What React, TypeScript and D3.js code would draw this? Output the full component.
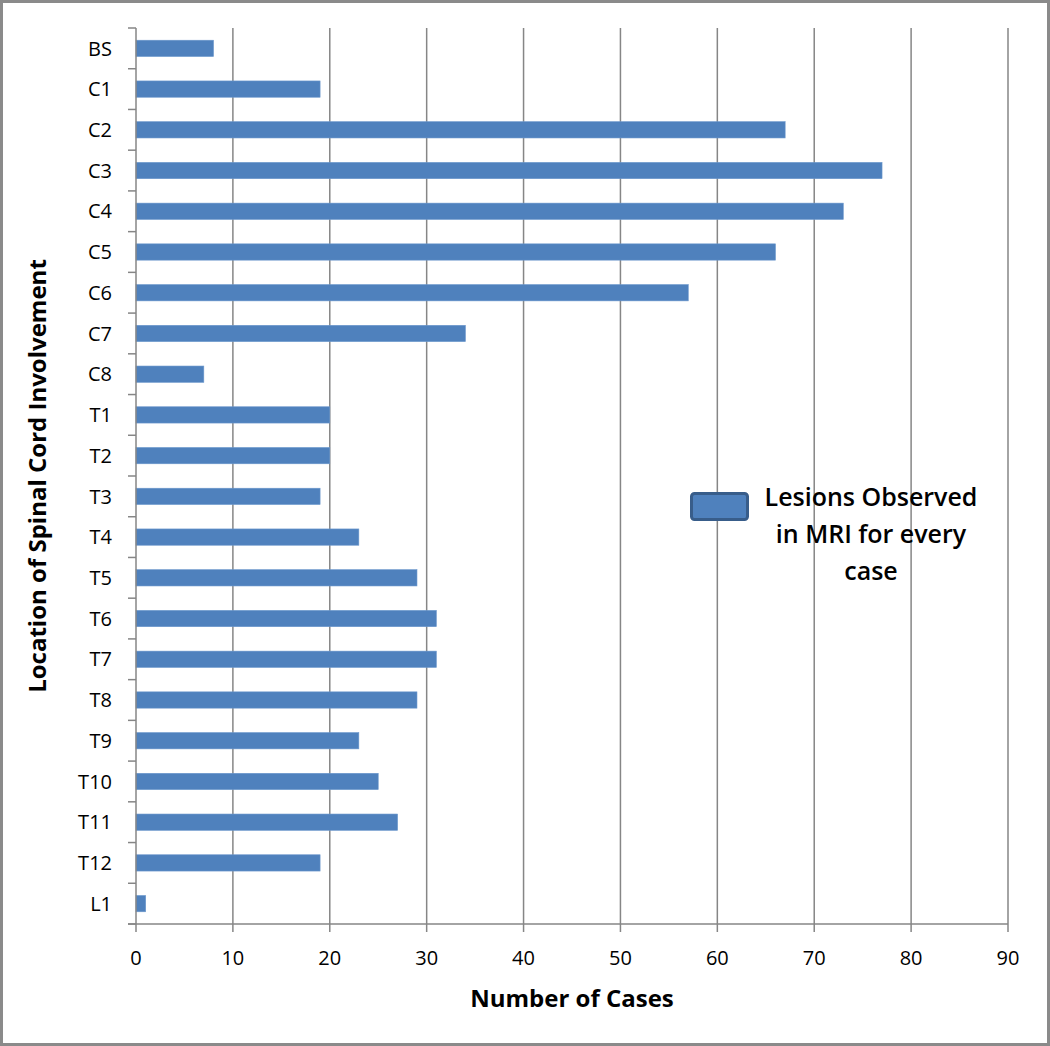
import React from "react";
import * as d3 from "d3";

const categories = ["BS","C1","C2","C3","C4","C5","C6","C7","C8","T1","T2","T3","T4","T5","T6","T7","T8","T9","T10","T11","T12","L1"];
const values = [8,19,67,77,73,66,57,34,7,20,20,19,23,29,31,31,29,23,25,27,19,1];
const xTicks = [0,10,20,30,40,50,60,70,80,90];
const legendLines = ["Lesions Observed","in MRI for every","case"];

const W = 1050, H = 1046;
const FONT = "'Open Sans', 'Liberation Sans', sans-serif";

export default function App() {
  const x = d3.scaleLinear().domain([0, 90]).range([136, 1008]);
  const y = d3.scaleBand<string>().domain(categories).range([28, 924]).paddingInner(0.6).paddingOuter(0.3);
  const step = y.step();
  const grid = "#868686";
  return (
    <svg width={W} height={H} style={{ position: "absolute", left: 0, top: 0, fontFamily: FONT }}>
      <rect x={0} y={0} width={W} height={H} fill="#fff" />
      <rect x={1.5} y={1.5} width={W - 3} height={H - 3} fill="none" stroke="#8a8a8a" strokeWidth={3} />
      {xTicks.slice(1).map(t => (
        <line key={"g" + t} x1={x(t)} x2={x(t)} y1={28} y2={924} stroke={grid} strokeWidth={1.5} />
      ))}
      {values.map((v, i) => (
        <rect key={categories[i]} x={x(0)} y={y(categories[i])!} width={x(v) - x(0)} height={y.bandwidth()}
          fill="#4f81bd" stroke="#6b97cc" strokeWidth={0.6} />
      ))}
      <line x1={x(0)} x2={x(0)} y1={28} y2={924} stroke={grid} strokeWidth={1.5} />
      <line x1={x(0) - 8} x2={x(90)} y1={924} y2={924} stroke={grid} strokeWidth={1.5} />
      {d3.range(categories.length + 1).map(i => (
        <line key={"yt" + i} x1={x(0) - 8} x2={x(0)} y1={28 + i * step} y2={28 + i * step} stroke={grid} strokeWidth={1.5} />
      ))}
      {xTicks.map(t => (
        <line key={"xt" + t} x1={x(t)} x2={x(t)} y1={924} y2={932} stroke={grid} strokeWidth={1.5} />
      ))}
      {categories.map(c => (
        <text key={"l" + c} x={112} y={y(c)! + y.bandwidth() / 2} dy="0.36em" textAnchor="end" fontSize={20} fill="#000">{c}</text>
      ))}
      {xTicks.map(t => (
        <text key={"xl" + t} x={x(t)} y={965} textAnchor="middle" fontSize={20} fill="#000">{t}</text>
      ))}
      <text x={572} y={1007} textAnchor="middle" fontSize={24} fontWeight="bold" fill="#000">Number of Cases</text>
      <text transform={`translate(46,476) rotate(-90)`} textAnchor="middle" fontSize={24} fontWeight="bold" fill="#000">Location of Spinal Cord Involvement</text>
      <rect x={691.5} y={493.5} width={56} height={26} rx={3} fill="#4f81bd" stroke="#385d8a" strokeWidth={3} />
      {legendLines.map((l, i) => (
        <text key={"lg" + i} x={871} y={506 + i * 37} textAnchor="middle" fontSize={25} fontWeight={600} fill="#000">{l}</text>
      ))}
    </svg>
  );
}
